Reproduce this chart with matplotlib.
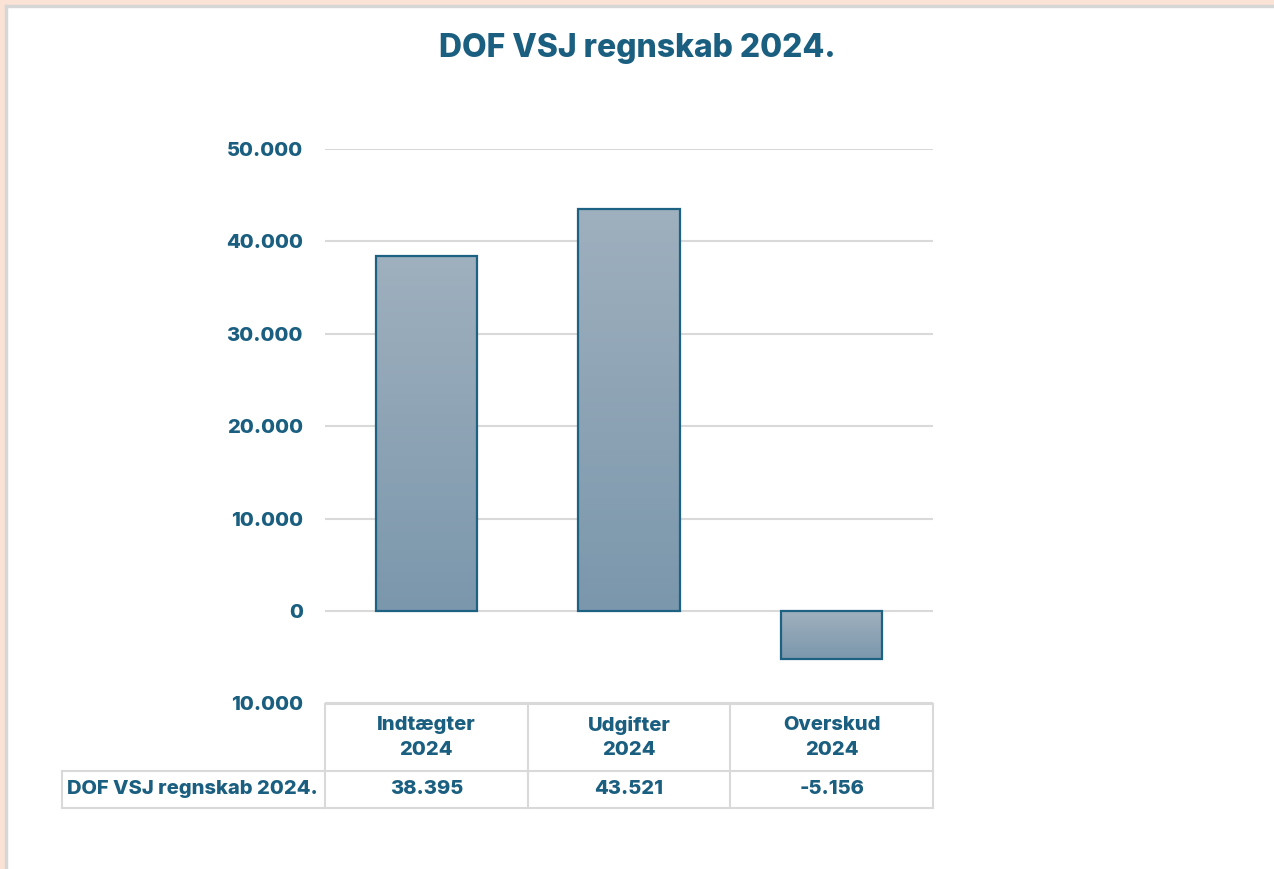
import numpy as np
import matplotlib
matplotlib.use("Agg")
import matplotlib.pyplot as plt
import matplotlib.transforms as mtransforms
from matplotlib.colors import LinearSegmentedColormap
from matplotlib.patches import Rectangle

title = "DOF VSJ regnskab 2024."
categories = ["Indtægter\n2024", "Udgifter\n2024", "Overskud\n2024"]
values = [38395, 43521, -5156]
value_labels = ["38.395", "43.521", "-5.156"]
yticks = [-10000, 0, 10000, 20000, 30000, 40000, 50000]
ytick_labels = ["10.000", "0", "10.000", "20.000", "30.000", "40.000", "50.000"]

txt = "#1A5E80"
edge = "#1E6283"
grid = "#D9D9D9"
cmap = LinearSegmentedColormap.from_list("bar", ["#7B97AC", "#9FB0BE"])
W = 800  # heavy weight, closer to the bold Aptos look

plt.rcParams["font.family"] = ["Inter", "DejaVu Sans"]
plt.rcParams["font.weight"] = W

fig = plt.figure(figsize=(12.74, 8.69), dpi=100)
fig.patch.set_facecolor("white")

# peach frame at top/left like the screenshot
fig.patches.append(Rectangle((0, 1 - 5 / 869), 1, 5 / 869, transform=fig.transFigure,
                             color="#FAE2D5", zorder=0))
fig.patches.append(Rectangle((0, 0), 5 / 1274, 1, transform=fig.transFigure,
                             color="#FAE2D5", zorder=0))
fig.patches.append(Rectangle((5 / 1274, 1 - 7 / 869), 1, 2 / 869, transform=fig.transFigure,
                             color="#D6D6D6", zorder=0))
fig.patches.append(Rectangle((5 / 1274, 0), 2 / 1274, 1 - 5 / 869, transform=fig.transFigure,
                             color="#D6D6D6", zorder=0))

ax = fig.add_axes([325 / 1274, 1 - 703.5 / 869, 608 / 1274, (703.5 - 149) / 869])
x = np.arange(len(values))
bars = ax.bar(x, values, width=0.5, facecolor="none", edgecolor=edge, linewidth=1.6, zorder=3)

grad = np.linspace(0, 1, 256).reshape(-1, 1)
for b, v in zip(bars, values):
    x0, w = b.get_x(), b.get_width()
    lo, hi = min(0, v), max(0, v)
    im = ax.imshow(grad, cmap=cmap, origin="lower", aspect="auto",
                   extent=[x0, x0 + w, lo, hi], zorder=2)
    im.set_clip_path(b)

ax.set_xlim(-0.5, 2.5)
ax.set_ylim(-10000, 50000)
ax.set_yticks(yticks)
ax.set_yticklabels(ytick_labels, fontweight=W)
ax.tick_params(axis="y", length=0, pad=16, labelsize=14.5, labelcolor=txt)
ax.set_xticks([])
ax.grid(axis="y", color=grid, linewidth=1.5, zorder=1)
ax.set_axisbelow(True)
for s in ax.spines.values():
    s.set_visible(False)

fig.text(0.5, 1 - 49 / 869, title, ha="center", va="center", fontsize=23,
         fontweight=W, color=txt)

# data table below the axis
tr = mtransforms.blended_transform_factory(ax.transData, fig.transFigure)
y_top = 1 - 704 / 869
y_mid = 1 - 771 / 869
y_bot = 1 - 808 / 869
lw = 1.5
for xb in np.arange(-0.5, len(values), 1.0):
    ax.plot([xb, xb], [y_top, y_bot], transform=tr, color=grid, lw=lw, clip_on=False)
ax.plot([-0.5, 2.5], [y_top, y_top], transform=tr, color=grid, lw=lw, clip_on=False)
ax.plot([-0.5, 2.5], [y_bot, y_bot], transform=tr, color=grid, lw=lw, clip_on=False)
ax.plot([-0.5, 2.5], [y_mid, y_mid], transform=tr, color=grid, lw=lw, clip_on=False)
x_lab = 62 / 1274
fig.lines.append(plt.Line2D([x_lab, 325 / 1274], [y_mid, y_mid], transform=fig.transFigure,
                            color=grid, lw=lw))
fig.lines.append(plt.Line2D([x_lab, 325 / 1274], [y_bot, y_bot], transform=fig.transFigure,
                            color=grid, lw=lw))
fig.lines.append(plt.Line2D([x_lab, x_lab], [y_mid, y_bot], transform=fig.transFigure,
                            color=grid, lw=lw))

for xi, cat, vl in zip(x, categories, value_labels):
    ax.text(xi, (y_top + y_mid) / 2, cat, transform=tr, ha="center", va="center",
            fontsize=14.5, fontweight=W, color=txt, linespacing=1.45)
    ax.text(xi, (y_mid + y_bot) / 2, vl, transform=tr, ha="center", va="center",
            fontsize=14.5, fontweight=W, color=txt)
fig.text(67 / 1274, (y_mid + y_bot) / 2, title, ha="left", va="center",
         fontsize=14.5, fontweight=W, color=txt)

fig.savefig("out.png", dpi=100)
